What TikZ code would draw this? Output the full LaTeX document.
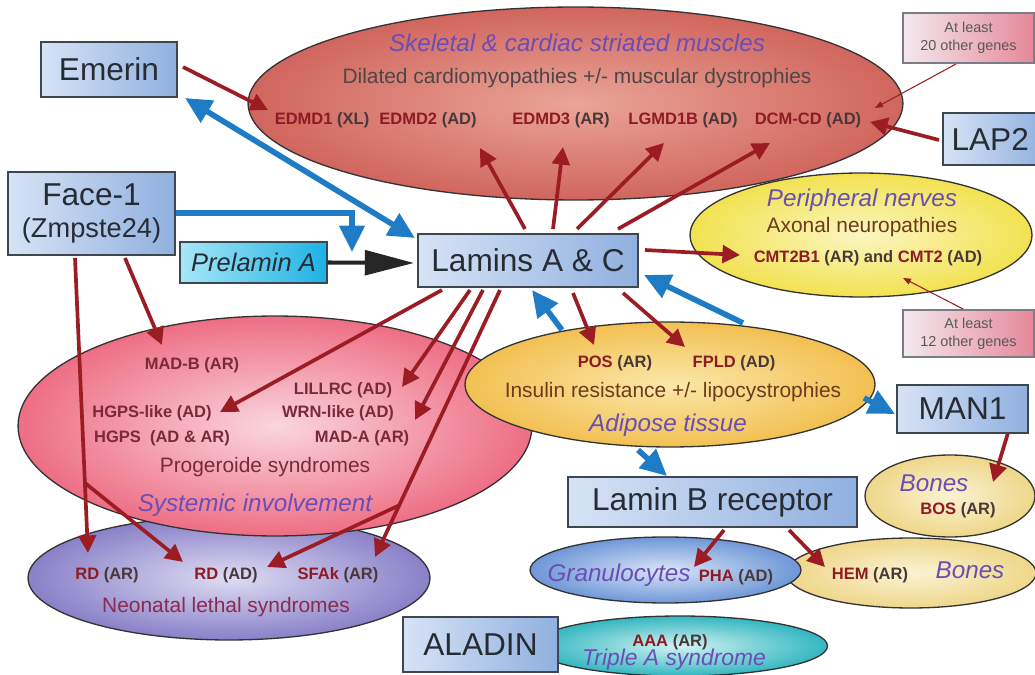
\documentclass[tikz,border=0pt]{standalone}
\usepackage{fontspec}
\setmainfont{Liberation Sans}
\usetikzlibrary{arrows.meta,shapes.geometric}
\definecolor{genered}{HTML}{8E1B24}
\definecolor{parcol}{HTML}{4A3838}
\definecolor{purp}{HTML}{6A4DB5}
\definecolor{arrred}{HTML}{9C1C24}
\definecolor{arrblue}{HTML}{1E7CC6}
\definecolor{boxL}{HTML}{D6E3F6}
\definecolor{boxR}{HTML}{90B0DF}
\definecolor{boxline}{HTML}{3E4650}
\definecolor{boxtext}{HTML}{262C34}
\definecolor{cyanL}{HTML}{A8E6F8}
\definecolor{cyanR}{HTML}{1CB2E4}
\definecolor{pinkL}{HTML}{F4E8EE}
\definecolor{pinkR}{HTML}{E6889A}
\definecolor{musIn}{HTML}{EAA497}
\definecolor{musOut}{HTML}{D0665E}
\definecolor{perIn}{HTML}{FBF6C2}
\definecolor{perOut}{HTML}{F2E250}
\definecolor{adiIn}{HTML}{FBE8AA}
\definecolor{adiOut}{HTML}{F2C052}
\definecolor{proIn}{HTML}{FAD6DE}
\definecolor{proOut}{HTML}{EE6E84}
\definecolor{neoIn}{HTML}{DEDCF3}
\definecolor{neoOut}{HTML}{8A80C8}
\definecolor{bonIn}{HTML}{FBF2D2}
\definecolor{bonOut}{HTML}{EFD78A}
\definecolor{graIn}{HTML}{DAE5F7}
\definecolor{graOut}{HTML}{6E97D7}
\definecolor{triIn}{HTML}{D2F3F3}
\definecolor{triOut}{HTML}{33B6C0}
\definecolor{subgray}{HTML}{4E4646}
\definecolor{subbrown}{HTML}{6E3A1C}
\definecolor{subred}{HTML}{7A2A36}
\definecolor{subneo}{HTML}{8A2A50}
\newcommand\genelab[2]{\textcolor{genered}{#1} \textcolor{parcol}{#2}}
\begin{document}
\begin{tikzpicture}[x=0.02cm,y=-0.02cm,
  bluebox/.style={draw=boxline, line width=0.7pt, left color=boxL, right color=boxR, inner sep=0, font=\fontsize{18}{19}\selectfont, text=boxtext},
  pinkbox/.style={draw=boxline!70, line width=0.6pt, left color=pinkL, right color=pinkR, inner sep=0, align=center, font=\fontsize{8.2}{10}\selectfont, text=black!65},
  blob/.style={ellipse, draw=black!80, line width=0.75pt, inner sep=0},
  gene/.style={inner sep=0, font=\fontsize{9.4}{11}\selectfont\bfseries},
  ital/.style={inner sep=0, font=\fontsize{13.8}{16}\selectfont\itshape, text=purp},
  subt/.style={inner sep=0, font=\fontsize{11.9}{14}\selectfont},
  redarr/.style={draw=arrred, line width=2.1pt, -{Triangle[length=10pt,width=10pt]}},
  bluearr/.style={draw=arrblue, line width=3.2pt, line join=miter, -{Triangle[length=15pt,width=14pt]}},
  bluedbl/.style={draw=arrblue, line width=3.2pt, {Triangle[length=15pt,width=14pt]}-{Triangle[length=15pt,width=14pt]}},
  thinarr/.style={draw=arrred, line width=0.6pt, -{Triangle[length=4.5pt,width=3.5pt]}},
  blackarr/.style={draw=black!85, line width=2.3pt, -{Triangle[length=28pt,width=14pt]}}
]
\useasboundingbox (0,0) rectangle (1035,675);

% ---------- ellipses ----------
\node[blob, inner color=musIn, outer color=musOut, minimum width=13.1cm, minimum height=3.86cm] (muscle) at (575.5,103.5) {};
\node[blob, inner color=perIn, outer color=perOut, minimum width=6.84cm, minimum height=2.48cm] (periph) at (861,235) {};
\node[blob, inner color=neoIn, outer color=neoOut, minimum width=8.04cm, minimum height=2.48cm] (neonat) at (229,578) {};
\node[blob, inner color=proIn, outer color=proOut, minimum width=10.28cm, minimum height=4.4cm] (progero) at (275,426) {};
\node[blob, inner color=adiIn, outer color=adiOut, minimum width=8.2cm, minimum height=2.5cm] (adipose) at (670,384.5) {};
\node[blob, inner color=bonIn, outer color=bonOut, minimum width=3.4cm, minimum height=1.64cm] (bonesU) at (950,496) {};
\node[blob, inner color=bonIn, outer color=bonOut, minimum width=5cm, minimum height=1.4cm] (bonesL) at (911,573) {};
\node[blob, inner color=graIn, outer color=graOut, minimum width=5.42cm, minimum height=1.32cm] (granu) at (665.5,570) {};
\node[blob, inner color=triIn, outer color=triOut, minimum width=5.9cm, minimum height=1.2cm] (triple) at (680,646) {};

% ---------- ellipse texts ----------
\node[ital] (tSkel) at (577,43) {Skeletal \& cardiac striated muscles};
\node[subt, text=subgray] (tDil) at (577,78) {Dilated cardiomyopathies +/- muscular dystrophies};
\node[gene] (edmd1) at (322,120) {\genelab{EDMD1}{(XL)}};
\node[gene] (edmd2) at (428,120) {\genelab{EDMD2}{(AD)}};
\node[gene] (edmd3) at (561,120) {\genelab{EDMD3}{(AR)}};
\node[gene] (lgmd) at (683,120) {\genelab{LGMD1B}{(AD)}};
\node[gene] (dcm) at (808,120) {\genelab{DCM-CD}{(AD)}};

\node[ital] (tPer) at (862,200) {Peripheral nerves};
\node[subt, text=subbrown] (tAxo) at (862,227) {Axonal neuropathies};
\node[gene] (cmt) at (868,258) {\genelab{CMT2B1}{(AR) and} \genelab{CMT2}{(AD)}};

\node[gene] (pos) at (615,363) {\genelab{POS}{(AR)}};
\node[gene] (fpld) at (734,363) {\genelab{FPLD}{(AD)}};
\node[subt, text=subbrown] (tIns) at (673,392) {Insulin resistance +/- lipocystrophies};
\node[ital] (tAdi) at (668,425) {Adipose tissue};

\node[gene, text=subred] (madb) at (192,365) {MAD-B (AR)};
\node[gene, text=subred] (hgpsl) at (152,413) {HGPS-like (AD)};
\node[gene, text=subred] (hgps) at (162,438) {HGPS\ \ (AD \& AR)};
\node[gene, text=subred] (lillrc) at (343,390) {LILLRC (AD)};
\node[gene, text=subred] (wrn) at (338,413) {WRN-like (AD)};
\node[gene, text=subred] (mada) at (362,438) {MAD-A (AR)};
\node[subt, text=subred] (tPro) at (265,467) {Progeroide syndromes};
\node[ital] (tSys) at (255,505) {Systemic involvement};

\node[gene] (rdar) at (107,575) {\genelab{RD}{(AR)}};
\node[gene] (rdad) at (226,575) {\genelab{RD}{(AD)}};
\node[gene] (sfak) at (338,575) {\genelab{SFAk}{(AR)}};
\node[subt, text=subneo] (tNeo) at (226,607) {Neonatal lethal syndromes};

\node[ital] (tBonU) at (934,483) {Bones};
\node[gene] (bos) at (958,510) {\genelab{BOS}{(AR)}};
\node[ital] (tGra) at (619,575) {Granulocytes};
\node[gene] (pha) at (736,577) {\genelab{PHA}{(AD)}};
\node[gene] (hem) at (870,575) {\genelab{HEM}{(AR)}};
\node[ital] (tBonL) at (970,570) {Bones};
\node[gene] (aaa) at (670,642) {\genelab{AAA}{(AR)}};
\node[ital, font=\fontsize{13}{15}\selectfont\itshape] (tTri) at (674,660) {Triple A syndrome};

% ---------- arrow end points ----------
\coordinate (e1s) at (183,67);   \coordinate (e1t) at (268,110);
\coordinate (m2s) at (525,229);  \coordinate (m2t) at (480,148);
\coordinate (m3s) at (553,229);  \coordinate (m3t) at (563,147);
\coordinate (m4s) at (577,229);  \coordinate (m4t) at (664,143);
\coordinate (m5s) at (618,229);  \coordinate (m5t) at (770,143);
\coordinate (l2s) at (939,140);  \coordinate (l2t) at (870,122);
\coordinate (a20s) at (956,64);  \coordinate (a20t) at (875,108);
\coordinate (cms) at (645,250);  \coordinate (cmt) at (740,255);
\coordinate (a12s) at (965,310); \coordinate (a12t) at (903,278);
\coordinate (ps) at (573,293);   \coordinate (pt) at (594,345);
\coordinate (fs) at (623,293);   \coordinate (ft) at (685,347);
\coordinate (mbs) at (125,258);  \coordinate (mbt) at (162,345);
\coordinate (rrs) at (75,258);   \coordinate (rrt) at (88,553);
\coordinate (rbs) at (85,483);   \coordinate (rbt) at (183,562);
\coordinate (hls) at (442,290);  \coordinate (hlt) at (220,412);
\coordinate (lls) at (470,290);  \coordinate (llt) at (402,387);
\coordinate (mas) at (483,290);  \coordinate (mat) at (415,420);
\coordinate (sfs) at (500,290);  \coordinate (sft) at (375,557);
\coordinate (sbs) at (400,505);  \coordinate (sbt) at (267,567);
\coordinate (mns) at (1008,433); \coordinate (mnt) at (993,482);
\coordinate (phs) at (724,530);  \coordinate (pht) at (694,567);
\coordinate (hes) at (789,530);  \coordinate (het) at (825,567);
\coordinate (ebA) at (185,98);   \coordinate (ebB) at (415,238);
\coordinate (fb1) at (175,213);  \coordinate (fb2) at (352,213); \coordinate (fb3) at (352,252);
\coordinate (b3s) at (562,330);  \coordinate (b3t) at (532,290);
\coordinate (b4s) at (743,323);  \coordinate (b4t) at (644,275);
\coordinate (b5s) at (864,398);  \coordinate (b5t) at (895,414);
\coordinate (b6s) at (638,450);  \coordinate (b6t) at (667,476);
\coordinate (blk) at (414,263);

% ---------- connectors ----------
\draw[redarr] (e1s) -- (e1t);
\draw[redarr] (m2s) -- (m2t);
\draw[redarr] (m3s) -- (m3t);
\draw[redarr] (m4s) -- (m4t);
\draw[redarr] (m5s) -- (m5t);
\draw[redarr] (l2s) -- (l2t);
\draw[thinarr] (a20s) -- (a20t);
\draw[redarr] (cms) -- (cmt);
\draw[thinarr] (a12s) -- (a12t);
\draw[redarr] (ps) -- (pt);
\draw[redarr] (fs) -- (ft);
\draw[redarr] (mbs) -- (mbt);
\draw[redarr] (rrs) -- (rrt);
\draw[redarr] (rbs) -- (rbt);
\draw[redarr] (hls) -- (hlt);
\draw[redarr] (lls) -- (llt);
\draw[redarr] (mas) -- (mat);
\draw[redarr] (sfs) -- (sft);
\draw[redarr] (sbs) -- (sbt);
\draw[redarr] (mns) -- (mnt);
\draw[redarr] (phs) -- (pht);
\draw[redarr] (hes) -- (het);
\draw[bluedbl] (ebA) -- (ebB);
\draw[bluearr] (fb1) -- (fb2) -- (fb3);
\draw[bluearr] (b3s) -- (b3t);
\draw[bluearr] (b4s) -- (b4t);
\draw[bluearr] (b5s) -- (b5t);
\draw[bluearr] (b6s) -- (b6t);

% ---------- boxes ----------
\node[bluebox, minimum width=2.72cm, minimum height=1.1cm] (emerin) at (109,69.5) {Emerin};
\node[bluebox, minimum width=3.34cm, minimum height=1.66cm, align=center] (face) at (91.5,213.5) {Face-1\\[-1pt]{\fontsize{15.5}{17}\selectfont(Zmpste24)}};
\node[draw=boxline, line width=0.7pt, left color=cyanL, right color=cyanR, inner sep=0, minimum width=2.94cm, minimum height=0.82cm, font=\fontsize{14.5}{16}\selectfont\itshape, text=boxtext] (prelamin) at (253.5,262.5) {Prelamin A};
\node[bluebox, minimum width=4.4cm, minimum height=1.06cm] (lam) at (528,260.5) {Lamins A \& C};
\node[bluebox, minimum width=2.04cm, minimum height=1.04cm, text width=1.9cm, align=left] (lap2) at (994,139) {\hspace*{0.1cm}LAP2};
\node[bluebox, minimum width=2.62cm, minimum height=0.96cm] (man1) at (962.5,409) {MAN1};
\node[bluebox, minimum width=5.78cm, minimum height=1.0cm] (lbr) at (712.5,502) {Lamin B receptor};
\node[bluebox, minimum width=3.1cm, minimum height=1.1cm] (aladin) at (480.5,644.5) {ALADIN};
\node[pinkbox, minimum width=2.62cm, minimum height=1.0cm] (atl20) at (968.5,38) {At least\\20 other genes};
\node[pinkbox, minimum width=2.62cm, minimum height=0.94cm] (atl12) at (968.5,333.5) {At least\\12 other genes};

\draw[blackarr] (prelamin.east) -- (blk);
\end{tikzpicture}
\end{document}
